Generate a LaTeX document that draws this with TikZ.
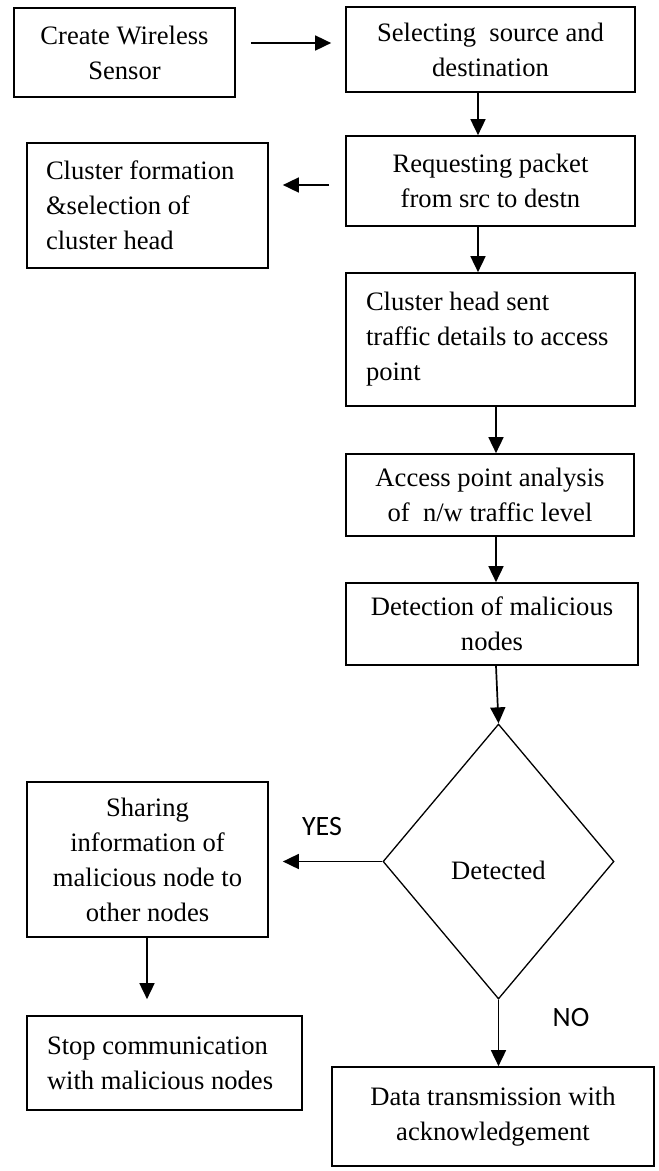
\documentclass[tikz,border=0pt]{standalone}
\usepackage{fontspec}
\setmainfont{Liberation Serif}
\newfontfamily\yesnofont{Carlito}
\usetikzlibrary{arrows.meta,shapes.geometric}
\begin{document}
\begin{tikzpicture}[x=1pt,y=-1pt,
  box/.style={draw, line width=1.7pt, inner sep=0pt,
    font=\fontsize{26.6}{35}\selectfont, align=center},
  leftbox/.style={box, align=flush left},
  decision/.style={draw, diamond, line width=1.3pt, inner sep=0pt,
    minimum width=231pt, minimum height=275pt},
  dectxt/.style={font=\fontsize{26.6}{35}\selectfont},
  arr/.style={line width=1.7pt, -{Triangle[length=16pt,width=15pt]}},
  yn/.style={font=\yesnofont\fontsize{28}{32}\selectfont}
]
\useasboundingbox (0,0) rectangle (659,1171);

\node[box, minimum width=221pt, minimum height=89pt] (create) at (124.5,52.5)
  {Create Wireless\\Sensor};
\node[box, minimum width=289pt, minimum height=85pt] (select) at (490.5,49.5)
  {Selecting~ source and\\destination};
\node[leftbox, minimum width=241pt, minimum height=125pt, text width=203pt] (cluster) at (147.5,205.5)
  {Cluster formation\\\&selection of\\cluster head};
\node[box, minimum width=289pt, minimum height=90pt] (request) at (490.5,181)
  {Requesting packet\\from src to destn};
\node[leftbox, minimum width=289pt, minimum height=133pt, text width=249pt] (chead) at (490.5,339.5)
  {Cluster head sent\\traffic details to access\\point};
\node[box, minimum width=288pt, minimum height=82pt] (access) at (490,495)
  {Access point analysis\\of~ n/w traffic level};
\node[box, minimum width=292pt, minimum height=82pt] (detect) at (492,624)
  {Detection of malicious\\nodes};
\node[decision] (dec) at (498.5,861.5) {};
\node[dectxt] (dectext) at (498.5,870) {Detected};
\node[box, minimum width=241pt, minimum height=155pt] (share) at (147.5,859.5)
  {Sharing\\information of\\malicious node to\\other nodes};
\node[leftbox, minimum width=275pt, minimum height=94pt, text width=235pt] (stop) at (164.5,1063)
  {Stop communication\\with malicious nodes};
\node[box, minimum width=322pt, minimum height=99pt] (data) at (493,1116.5)
  {Data transmission with\\acknowledgement};

\node[yn] (yes) at (322,826) {YES};
\node[yn] (no) at (571,1017) {NO};

\coordinate (y1) at (0,43);
\coordinate (x2) at (478,0);
\coordinate (y3) at (0,185);
\coordinate (x5) at (496,0);
\coordinate (x9) at (147,0);

\draw[arr, shorten <=15pt, shorten >=14pt] (create.east |- y1) -- (select.west |- y1);
\draw[arr] (select.south -| x2) -- (request.north -| x2);
\draw[arr, shorten <=16pt, shorten >=14pt] (request.west |- y3) -- (cluster.east |- y3);
\draw[arr] (request.south -| x2) -- (chead.north -| x2);
\draw[arr] (chead.south -| x5) -- (access.north -| x5);
\draw[arr] (access.south -| x5) -- (detect.north -| x5);
\draw[arr] (detect.south -| x5) -- (dec.north);
\draw[arr, shorten >=14pt] (dec.west) -- (share.east |- dec.west);
\draw[arr, shorten >=16pt] (share.south -| x9) -- (stop.north -| x9);
\draw[arr] (dec.south) -- (data.north -| dec.south);
\end{tikzpicture}
\end{document}
